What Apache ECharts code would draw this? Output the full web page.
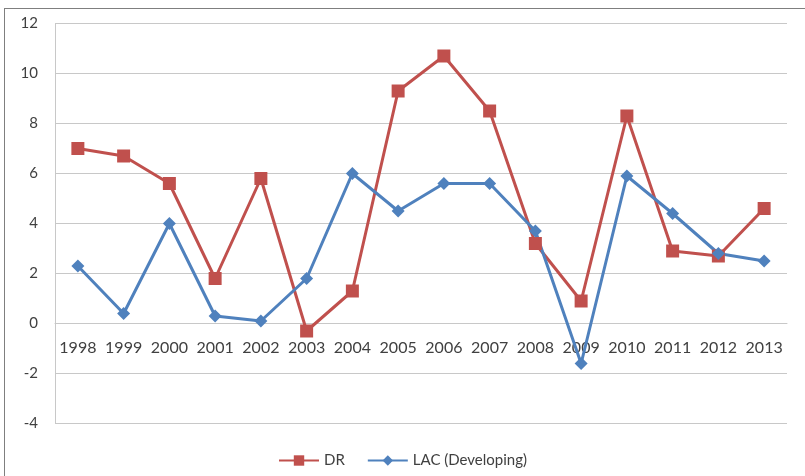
<!DOCTYPE html>
<html>
<head>
<meta charset="utf-8">
<script src="https://cdn.jsdelivr.net/npm/echarts@6/dist/echarts.min.js"></script>
<style>
html,body{margin:0;padding:0;background:#fff;overflow:hidden;}
#c{width:805px;height:476px;position:absolute;left:0;top:0;}
#frame{position:absolute;left:4px;top:8px;width:900px;height:600px;border:1px solid #7f7f7f;pointer-events:none;}
</style>
</head>
<body>
<div id="c"></div>
<div id="frame"></div>
<script>
const years = ['1998','1999','2000','2001','2002','2003','2004','2005','2006','2007','2008','2009','2010','2011','2012','2013'];
const drValues = [7.0, 6.7, 5.6, 1.8, 5.8, -0.3, 1.3, 9.3, 10.7, 8.5, 3.2, 0.9, 8.3, 2.9, 2.7, 4.6];
const lacValues = [2.3, 0.4, 4.0, 0.3, 0.1, 1.8, 6.0, 4.5, 5.6, 5.6, 3.7, -1.6, 5.9, 4.4, 2.8, 2.5];
const seriesNames = ['DR', 'LAC (Developing)'];

const chart = echarts.init(document.getElementById('c'), null, {renderer:'canvas'});
const font = 'Lato';
chart.setOption({
  animation: false,
  backgroundColor: '#ffffff',
  grid: {left: 55, right: 18, top: 23.5, bottom: 52.5, containLabel: false},
  legend: {
    bottom: 3,
    left: 'center',
    itemWidth: 40,
    itemHeight: 13,
    itemGap: 22,
    textStyle: {fontFamily: font, fontSize: 15, color: '#404040'},
    data: seriesNames
  },
  xAxis: {
    type: 'category',
    data: years,
    boundaryGap: true,
    offset: -100,
    axisLine: {show: true, onZero: false, lineStyle: {color: '#c8c8c8', width: 1}},
    axisTick: {show: false},
    axisLabel: {fontFamily: font, fontSize: 16, color: '#404040', margin: 16, interval: 0}
  },
  yAxis: {
    type: 'value',
    min: -4, max: 12, interval: 2,
    axisLine: {show: true, lineStyle: {color: '#c8c8c8'}},
    axisTick: {show: false},
    splitLine: {lineStyle: {color: '#c8c8c8', width: 1}},
    axisLabel: {fontFamily: font, fontSize: 15, color: '#404040', margin: 17}
  },
  series: [
    {
      name: seriesNames[0],
      type: 'line',
      data: drValues,
      symbol: 'rect',
      symbolSize: 13,
      lineStyle: {color: '#C0504D', width: 3},
      itemStyle: {color: '#C0504D'}
    },
    {
      name: seriesNames[1],
      type: 'line',
      data: lacValues,
      symbol: 'diamond',
      symbolSize: 13,
      lineStyle: {color: '#4F81BD', width: 3},
      itemStyle: {color: '#4F81BD'}
    }
  ]
});
</script>
</body>
</html>
